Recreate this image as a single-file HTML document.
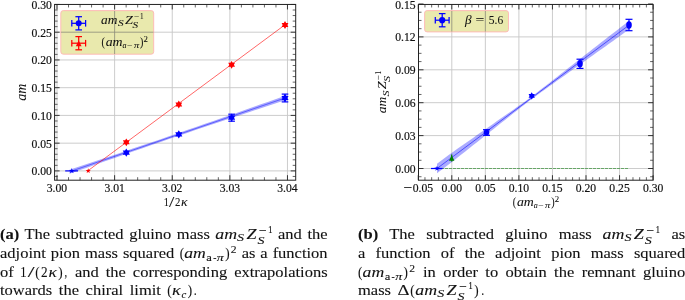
<!DOCTYPE html><html><head><meta charset="utf-8"><title>figure</title><style>
html,body{margin:0;padding:0;background:#fff}
body{width:685px;height:300px;position:relative;overflow:hidden;font-family:"Liberation Serif",serif;color:#111}
.ln{position:absolute;font-size:14.6px;line-height:20px;height:20px;text-align:justify;text-align-last:justify;white-space:normal;transform-origin:0 0;transform:scaleX(1.13);-webkit-text-stroke:0.1px #111}
.ln.last{text-align:left;text-align-last:left;white-space:nowrap;word-spacing:2.2px}
.m{vertical-align:-4.8px;overflow:visible} .m text{stroke-width:0.1px}
</style></head><body>
<svg width="685" height="300" viewBox="0 0 685 300" style="position:absolute;left:0;top:0">
<style>text{font-family:"Liberation Serif",serif;fill:#111;stroke:#111;stroke-width:0.2px} .i{font-style:italic;stroke-width:0.08px} .lt text{stroke-width:0.06px}</style>
<line x1="57.00" y1="4.45" x2="57.00" y2="180.20" stroke="#c6c6c6" stroke-width="0.9" />
<line x1="114.62" y1="4.45" x2="114.62" y2="180.20" stroke="#c6c6c6" stroke-width="0.9" />
<line x1="172.24" y1="4.45" x2="172.24" y2="180.20" stroke="#c6c6c6" stroke-width="0.9" />
<line x1="229.86" y1="4.45" x2="229.86" y2="180.20" stroke="#c6c6c6" stroke-width="0.9" />
<line x1="287.48" y1="4.45" x2="287.48" y2="180.20" stroke="#c6c6c6" stroke-width="0.9" />
<line x1="54.60" y1="170.90" x2="295.70" y2="170.90" stroke="#c6c6c6" stroke-width="0.9" />
<line x1="54.60" y1="143.16" x2="295.70" y2="143.16" stroke="#c6c6c6" stroke-width="0.9" />
<line x1="54.60" y1="115.42" x2="295.70" y2="115.42" stroke="#c6c6c6" stroke-width="0.9" />
<line x1="54.60" y1="87.68" x2="295.70" y2="87.68" stroke="#c6c6c6" stroke-width="0.9" />
<line x1="54.60" y1="59.94" x2="295.70" y2="59.94" stroke="#c6c6c6" stroke-width="0.9" />
<line x1="54.60" y1="32.20" x2="295.70" y2="32.20" stroke="#c6c6c6" stroke-width="0.9" />
<rect x="60.8" y="10.6" width="92.9" height="43.6" rx="2.5" fill="#e9e9ad" stroke="#ffb6b6" stroke-width="0.9"/>
<line x1="114.62" y1="11.00" x2="114.62" y2="54.00" stroke="#8a8a78" stroke-width="0.8" />
<line x1="61.00" y1="32.20" x2="153.50" y2="32.20" stroke="#8a8a78" stroke-width="0.8" />
<polygon points="69.50,169.72 78.54,166.72 87.58,163.72 96.62,160.71 105.67,157.70 114.71,154.68 123.75,151.65 132.79,148.61 141.83,145.56 150.88,142.49 159.92,139.42 168.96,136.33 178.00,133.23 187.04,130.12 196.08,127.00 205.12,123.86 214.17,120.71 223.21,117.56 232.25,114.39 241.29,111.22 250.33,108.04 259.38,104.86 268.42,101.67 277.46,98.47 286.50,95.27 286.50,99.69 277.46,102.69 268.42,105.68 259.38,108.68 250.33,111.68 241.29,114.69 232.25,117.71 223.21,120.73 214.17,123.77 205.12,126.81 196.08,129.86 187.04,132.93 178.00,136.00 168.96,139.09 159.92,142.19 150.88,145.31 141.83,148.44 132.79,151.58 123.75,154.73 114.71,157.88 105.67,161.05 96.62,164.23 87.58,167.41 78.54,170.59 69.50,173.78" fill="#0000ff" fill-opacity="0.34"/>
<line x1="71.70" y1="171.00" x2="286.00" y2="97.66" stroke="#0000ff" stroke-width="0.45" />
<line x1="88.00" y1="170.70" x2="285.50" y2="24.41" stroke="#ff0000" stroke-width="0.6" />
<line x1="65.20" y1="170.90" x2="78.00" y2="170.90" stroke="#0000ff" stroke-width="1.2" />
<polygon points="71.80,167.90 72.51,169.93 74.65,169.97 72.94,171.27 73.56,173.33 71.80,172.10 70.04,173.33 70.66,171.27 68.95,169.97 71.09,169.93" fill="#0000ff"/>
<polygon points="88.20,168.20 88.83,170.03 90.77,170.07 89.23,171.23 89.79,173.08 88.20,171.98 86.61,173.08 87.17,171.23 85.63,170.07 87.57,170.03" fill="#ff0000"/>
<polygon points="126.30,148.50 127.53,150.47 129.85,150.55 128.76,152.60 129.85,154.65 127.53,154.73 126.30,156.70 125.07,154.73 122.75,154.65 123.84,152.60 122.75,150.55 125.07,150.47" fill="#0000ff"/>
<polygon points="178.80,130.30 180.03,132.27 182.35,132.35 181.26,134.40 182.35,136.45 180.03,136.53 178.80,138.50 177.57,136.53 175.25,136.45 176.34,134.40 175.25,132.35 177.57,132.27" fill="#0000ff"/>
<line x1="231.60" y1="114.20" x2="231.60" y2="121.20" stroke="#0000ff" stroke-width="1.2" />
<line x1="228.30" y1="114.20" x2="234.90" y2="114.20" stroke="#0000ff" stroke-width="1.2" />
<line x1="228.30" y1="121.20" x2="234.90" y2="121.20" stroke="#0000ff" stroke-width="1.2" />
<polygon points="231.60,113.60 232.83,115.57 235.15,115.65 234.06,117.70 235.15,119.75 232.83,119.83 231.60,121.80 230.37,119.83 228.05,119.75 229.14,117.70 228.05,115.65 230.37,115.57" fill="#0000ff"/>
<line x1="285.00" y1="94.10" x2="285.00" y2="101.90" stroke="#0000ff" stroke-width="1.2" />
<line x1="281.70" y1="94.10" x2="288.30" y2="94.10" stroke="#0000ff" stroke-width="1.2" />
<line x1="281.70" y1="101.90" x2="288.30" y2="101.90" stroke="#0000ff" stroke-width="1.2" />
<polygon points="285.00,93.90 286.23,95.87 288.55,95.95 287.46,98.00 288.55,100.05 286.23,100.13 285.00,102.10 283.77,100.13 281.45,100.05 282.54,98.00 281.45,95.95 283.77,95.87" fill="#0000ff"/>
<polygon points="126.30,138.40 127.47,140.27 129.68,140.35 128.64,142.30 129.68,144.25 127.47,144.33 126.30,146.20 125.13,144.33 122.92,144.25 123.96,142.30 122.92,140.35 125.13,140.27" fill="#ff0000"/>
<polygon points="178.80,100.60 179.97,102.47 182.18,102.55 181.14,104.50 182.18,106.45 179.97,106.53 178.80,108.40 177.63,106.53 175.42,106.45 176.46,104.50 175.42,102.55 177.63,102.47" fill="#ff0000"/>
<polygon points="231.60,60.90 232.77,62.77 234.98,62.85 233.94,64.80 234.98,66.75 232.77,66.83 231.60,68.70 230.43,66.83 228.22,66.75 229.26,64.80 228.22,62.85 230.43,62.77" fill="#ff0000"/>
<polygon points="285.00,21.10 286.17,22.97 288.38,23.05 287.34,25.00 288.38,26.95 286.17,27.03 285.00,28.90 283.83,27.03 281.62,26.95 282.66,25.00 281.62,23.05 283.83,22.97" fill="#ff0000"/>
<line x1="71.80" y1="23.30" x2="85.60" y2="23.30" stroke="#0000ff" stroke-width="1.25" />
<line x1="71.80" y1="20.00" x2="71.80" y2="26.60" stroke="#0000ff" stroke-width="1.25" />
<line x1="85.60" y1="20.00" x2="85.60" y2="26.60" stroke="#0000ff" stroke-width="1.25" />
<line x1="78.70" y1="16.70" x2="78.70" y2="29.90" stroke="#0000ff" stroke-width="1.25" />
<line x1="75.40" y1="16.70" x2="82.00" y2="16.70" stroke="#0000ff" stroke-width="1.25" />
<line x1="75.40" y1="29.90" x2="82.00" y2="29.90" stroke="#0000ff" stroke-width="1.25" />
<circle cx="78.70" cy="23.30" r="3.0" fill="#0000ff"/>
<line x1="71.80" y1="43.20" x2="85.60" y2="43.20" stroke="#ff0000" stroke-width="1.25" />
<line x1="71.80" y1="39.90" x2="71.80" y2="46.50" stroke="#ff0000" stroke-width="1.25" />
<line x1="85.60" y1="39.90" x2="85.60" y2="46.50" stroke="#ff0000" stroke-width="1.25" />
<line x1="78.70" y1="36.60" x2="78.70" y2="49.80" stroke="#ff0000" stroke-width="1.25" />
<line x1="75.40" y1="36.60" x2="82.00" y2="36.60" stroke="#ff0000" stroke-width="1.25" />
<line x1="75.40" y1="49.80" x2="82.00" y2="49.80" stroke="#ff0000" stroke-width="1.25" />
<polygon points="75.80,46.30 81.60,46.30 78.70,40.50" fill="#ff0000"/>
<line x1="57.00" y1="180.20" x2="57.00" y2="175.20" stroke="#222" stroke-width="0.9" />
<line x1="57.00" y1="4.45" x2="57.00" y2="9.45" stroke="#222" stroke-width="0.9" />
<line x1="114.62" y1="180.20" x2="114.62" y2="175.20" stroke="#222" stroke-width="0.9" />
<line x1="114.62" y1="4.45" x2="114.62" y2="9.45" stroke="#222" stroke-width="0.9" />
<line x1="172.24" y1="180.20" x2="172.24" y2="175.20" stroke="#222" stroke-width="0.9" />
<line x1="172.24" y1="4.45" x2="172.24" y2="9.45" stroke="#222" stroke-width="0.9" />
<line x1="229.86" y1="180.20" x2="229.86" y2="175.20" stroke="#222" stroke-width="0.9" />
<line x1="229.86" y1="4.45" x2="229.86" y2="9.45" stroke="#222" stroke-width="0.9" />
<line x1="287.48" y1="180.20" x2="287.48" y2="175.20" stroke="#222" stroke-width="0.9" />
<line x1="287.48" y1="4.45" x2="287.48" y2="9.45" stroke="#222" stroke-width="0.9" />
<line x1="68.52" y1="180.20" x2="68.52" y2="177.20" stroke="#222" stroke-width="0.7" />
<line x1="68.52" y1="4.45" x2="68.52" y2="7.45" stroke="#222" stroke-width="0.7" />
<line x1="80.05" y1="180.20" x2="80.05" y2="177.20" stroke="#222" stroke-width="0.7" />
<line x1="80.05" y1="4.45" x2="80.05" y2="7.45" stroke="#222" stroke-width="0.7" />
<line x1="91.57" y1="180.20" x2="91.57" y2="177.20" stroke="#222" stroke-width="0.7" />
<line x1="91.57" y1="4.45" x2="91.57" y2="7.45" stroke="#222" stroke-width="0.7" />
<line x1="103.10" y1="180.20" x2="103.10" y2="177.20" stroke="#222" stroke-width="0.7" />
<line x1="103.10" y1="4.45" x2="103.10" y2="7.45" stroke="#222" stroke-width="0.7" />
<line x1="126.14" y1="180.20" x2="126.14" y2="177.20" stroke="#222" stroke-width="0.7" />
<line x1="126.14" y1="4.45" x2="126.14" y2="7.45" stroke="#222" stroke-width="0.7" />
<line x1="137.67" y1="180.20" x2="137.67" y2="177.20" stroke="#222" stroke-width="0.7" />
<line x1="137.67" y1="4.45" x2="137.67" y2="7.45" stroke="#222" stroke-width="0.7" />
<line x1="149.19" y1="180.20" x2="149.19" y2="177.20" stroke="#222" stroke-width="0.7" />
<line x1="149.19" y1="4.45" x2="149.19" y2="7.45" stroke="#222" stroke-width="0.7" />
<line x1="160.72" y1="180.20" x2="160.72" y2="177.20" stroke="#222" stroke-width="0.7" />
<line x1="160.72" y1="4.45" x2="160.72" y2="7.45" stroke="#222" stroke-width="0.7" />
<line x1="183.76" y1="180.20" x2="183.76" y2="177.20" stroke="#222" stroke-width="0.7" />
<line x1="183.76" y1="4.45" x2="183.76" y2="7.45" stroke="#222" stroke-width="0.7" />
<line x1="195.29" y1="180.20" x2="195.29" y2="177.20" stroke="#222" stroke-width="0.7" />
<line x1="195.29" y1="4.45" x2="195.29" y2="7.45" stroke="#222" stroke-width="0.7" />
<line x1="206.81" y1="180.20" x2="206.81" y2="177.20" stroke="#222" stroke-width="0.7" />
<line x1="206.81" y1="4.45" x2="206.81" y2="7.45" stroke="#222" stroke-width="0.7" />
<line x1="218.34" y1="180.20" x2="218.34" y2="177.20" stroke="#222" stroke-width="0.7" />
<line x1="218.34" y1="4.45" x2="218.34" y2="7.45" stroke="#222" stroke-width="0.7" />
<line x1="241.38" y1="180.20" x2="241.38" y2="177.20" stroke="#222" stroke-width="0.7" />
<line x1="241.38" y1="4.45" x2="241.38" y2="7.45" stroke="#222" stroke-width="0.7" />
<line x1="252.91" y1="180.20" x2="252.91" y2="177.20" stroke="#222" stroke-width="0.7" />
<line x1="252.91" y1="4.45" x2="252.91" y2="7.45" stroke="#222" stroke-width="0.7" />
<line x1="264.43" y1="180.20" x2="264.43" y2="177.20" stroke="#222" stroke-width="0.7" />
<line x1="264.43" y1="4.45" x2="264.43" y2="7.45" stroke="#222" stroke-width="0.7" />
<line x1="275.96" y1="180.20" x2="275.96" y2="177.20" stroke="#222" stroke-width="0.7" />
<line x1="275.96" y1="4.45" x2="275.96" y2="7.45" stroke="#222" stroke-width="0.7" />
<line x1="54.60" y1="170.90" x2="59.60" y2="170.90" stroke="#222" stroke-width="0.9" />
<line x1="295.70" y1="170.90" x2="290.70" y2="170.90" stroke="#222" stroke-width="0.9" />
<line x1="54.60" y1="143.16" x2="59.60" y2="143.16" stroke="#222" stroke-width="0.9" />
<line x1="295.70" y1="143.16" x2="290.70" y2="143.16" stroke="#222" stroke-width="0.9" />
<line x1="54.60" y1="115.42" x2="59.60" y2="115.42" stroke="#222" stroke-width="0.9" />
<line x1="295.70" y1="115.42" x2="290.70" y2="115.42" stroke="#222" stroke-width="0.9" />
<line x1="54.60" y1="87.68" x2="59.60" y2="87.68" stroke="#222" stroke-width="0.9" />
<line x1="295.70" y1="87.68" x2="290.70" y2="87.68" stroke="#222" stroke-width="0.9" />
<line x1="54.60" y1="59.94" x2="59.60" y2="59.94" stroke="#222" stroke-width="0.9" />
<line x1="295.70" y1="59.94" x2="290.70" y2="59.94" stroke="#222" stroke-width="0.9" />
<line x1="54.60" y1="32.20" x2="59.60" y2="32.20" stroke="#222" stroke-width="0.9" />
<line x1="295.70" y1="32.20" x2="290.70" y2="32.20" stroke="#222" stroke-width="0.9" />
<line x1="54.60" y1="4.46" x2="59.60" y2="4.46" stroke="#222" stroke-width="0.9" />
<line x1="295.70" y1="4.46" x2="290.70" y2="4.46" stroke="#222" stroke-width="0.9" />
<line x1="54.60" y1="176.45" x2="57.60" y2="176.45" stroke="#222" stroke-width="0.7" />
<line x1="295.70" y1="176.45" x2="292.70" y2="176.45" stroke="#222" stroke-width="0.7" />
<line x1="54.60" y1="165.35" x2="57.60" y2="165.35" stroke="#222" stroke-width="0.7" />
<line x1="295.70" y1="165.35" x2="292.70" y2="165.35" stroke="#222" stroke-width="0.7" />
<line x1="54.60" y1="159.80" x2="57.60" y2="159.80" stroke="#222" stroke-width="0.7" />
<line x1="295.70" y1="159.80" x2="292.70" y2="159.80" stroke="#222" stroke-width="0.7" />
<line x1="54.60" y1="154.26" x2="57.60" y2="154.26" stroke="#222" stroke-width="0.7" />
<line x1="295.70" y1="154.26" x2="292.70" y2="154.26" stroke="#222" stroke-width="0.7" />
<line x1="54.60" y1="148.71" x2="57.60" y2="148.71" stroke="#222" stroke-width="0.7" />
<line x1="295.70" y1="148.71" x2="292.70" y2="148.71" stroke="#222" stroke-width="0.7" />
<line x1="54.60" y1="137.61" x2="57.60" y2="137.61" stroke="#222" stroke-width="0.7" />
<line x1="295.70" y1="137.61" x2="292.70" y2="137.61" stroke="#222" stroke-width="0.7" />
<line x1="54.60" y1="132.06" x2="57.60" y2="132.06" stroke="#222" stroke-width="0.7" />
<line x1="295.70" y1="132.06" x2="292.70" y2="132.06" stroke="#222" stroke-width="0.7" />
<line x1="54.60" y1="126.52" x2="57.60" y2="126.52" stroke="#222" stroke-width="0.7" />
<line x1="295.70" y1="126.52" x2="292.70" y2="126.52" stroke="#222" stroke-width="0.7" />
<line x1="54.60" y1="120.97" x2="57.60" y2="120.97" stroke="#222" stroke-width="0.7" />
<line x1="295.70" y1="120.97" x2="292.70" y2="120.97" stroke="#222" stroke-width="0.7" />
<line x1="54.60" y1="109.87" x2="57.60" y2="109.87" stroke="#222" stroke-width="0.7" />
<line x1="295.70" y1="109.87" x2="292.70" y2="109.87" stroke="#222" stroke-width="0.7" />
<line x1="54.60" y1="104.32" x2="57.60" y2="104.32" stroke="#222" stroke-width="0.7" />
<line x1="295.70" y1="104.32" x2="292.70" y2="104.32" stroke="#222" stroke-width="0.7" />
<line x1="54.60" y1="98.78" x2="57.60" y2="98.78" stroke="#222" stroke-width="0.7" />
<line x1="295.70" y1="98.78" x2="292.70" y2="98.78" stroke="#222" stroke-width="0.7" />
<line x1="54.60" y1="93.23" x2="57.60" y2="93.23" stroke="#222" stroke-width="0.7" />
<line x1="295.70" y1="93.23" x2="292.70" y2="93.23" stroke="#222" stroke-width="0.7" />
<line x1="54.60" y1="82.13" x2="57.60" y2="82.13" stroke="#222" stroke-width="0.7" />
<line x1="295.70" y1="82.13" x2="292.70" y2="82.13" stroke="#222" stroke-width="0.7" />
<line x1="54.60" y1="76.58" x2="57.60" y2="76.58" stroke="#222" stroke-width="0.7" />
<line x1="295.70" y1="76.58" x2="292.70" y2="76.58" stroke="#222" stroke-width="0.7" />
<line x1="54.60" y1="71.04" x2="57.60" y2="71.04" stroke="#222" stroke-width="0.7" />
<line x1="295.70" y1="71.04" x2="292.70" y2="71.04" stroke="#222" stroke-width="0.7" />
<line x1="54.60" y1="65.49" x2="57.60" y2="65.49" stroke="#222" stroke-width="0.7" />
<line x1="295.70" y1="65.49" x2="292.70" y2="65.49" stroke="#222" stroke-width="0.7" />
<line x1="54.60" y1="54.39" x2="57.60" y2="54.39" stroke="#222" stroke-width="0.7" />
<line x1="295.70" y1="54.39" x2="292.70" y2="54.39" stroke="#222" stroke-width="0.7" />
<line x1="54.60" y1="48.84" x2="57.60" y2="48.84" stroke="#222" stroke-width="0.7" />
<line x1="295.70" y1="48.84" x2="292.70" y2="48.84" stroke="#222" stroke-width="0.7" />
<line x1="54.60" y1="43.30" x2="57.60" y2="43.30" stroke="#222" stroke-width="0.7" />
<line x1="295.70" y1="43.30" x2="292.70" y2="43.30" stroke="#222" stroke-width="0.7" />
<line x1="54.60" y1="37.75" x2="57.60" y2="37.75" stroke="#222" stroke-width="0.7" />
<line x1="295.70" y1="37.75" x2="292.70" y2="37.75" stroke="#222" stroke-width="0.7" />
<line x1="54.60" y1="26.65" x2="57.60" y2="26.65" stroke="#222" stroke-width="0.7" />
<line x1="295.70" y1="26.65" x2="292.70" y2="26.65" stroke="#222" stroke-width="0.7" />
<line x1="54.60" y1="21.10" x2="57.60" y2="21.10" stroke="#222" stroke-width="0.7" />
<line x1="295.70" y1="21.10" x2="292.70" y2="21.10" stroke="#222" stroke-width="0.7" />
<line x1="54.60" y1="15.56" x2="57.60" y2="15.56" stroke="#222" stroke-width="0.7" />
<line x1="295.70" y1="15.56" x2="292.70" y2="15.56" stroke="#222" stroke-width="0.7" />
<line x1="54.60" y1="10.01" x2="57.60" y2="10.01" stroke="#222" stroke-width="0.7" />
<line x1="295.70" y1="10.01" x2="292.70" y2="10.01" stroke="#222" stroke-width="0.7" />
<rect x="54.6" y="4.45" width="241.1" height="175.75" fill="none" stroke="#222" stroke-width="1.0"/>
<text x="31.50" y="175.40" font-size="13.4" textLength="20.4" lengthAdjust="spacingAndGlyphs">0.00</text>
<text x="31.50" y="147.66" font-size="13.4" textLength="20.4" lengthAdjust="spacingAndGlyphs">0.05</text>
<text x="31.50" y="119.92" font-size="13.4" textLength="20.4" lengthAdjust="spacingAndGlyphs">0.10</text>
<text x="31.50" y="92.18" font-size="13.4" textLength="20.4" lengthAdjust="spacingAndGlyphs">0.15</text>
<text x="31.50" y="64.44" font-size="13.4" textLength="20.4" lengthAdjust="spacingAndGlyphs">0.20</text>
<text x="31.50" y="36.70" font-size="13.4" textLength="20.4" lengthAdjust="spacingAndGlyphs">0.25</text>
<text x="31.50" y="8.96" font-size="13.4" textLength="20.4" lengthAdjust="spacingAndGlyphs">0.30</text>
<text x="46.80" y="191.80" font-size="13.4" textLength="20.4" lengthAdjust="spacingAndGlyphs">3.00</text>
<text x="104.42" y="191.80" font-size="13.4" textLength="20.4" lengthAdjust="spacingAndGlyphs">3.01</text>
<text x="162.04" y="191.80" font-size="13.4" textLength="20.4" lengthAdjust="spacingAndGlyphs">3.02</text>
<text x="219.66" y="191.80" font-size="13.4" textLength="20.4" lengthAdjust="spacingAndGlyphs">3.03</text>
<text x="277.28" y="191.80" font-size="13.4" textLength="20.4" lengthAdjust="spacingAndGlyphs">3.04</text>
<g class="lt" transform="translate(26.4,100.7) rotate(-90)">
<text x="0.00" y="0.00" font-size="13.8" textLength="17.0" lengthAdjust="spacingAndGlyphs" class="i">am</text>
</g>
<g class="lt">
<text x="163.70" y="206.10" font-size="12.6" textLength="5.2" lengthAdjust="spacingAndGlyphs">1</text>
<text x="169.00" y="206.60" font-size="14.0" textLength="5.3" lengthAdjust="spacingAndGlyphs">/</text>
<text x="174.90" y="206.10" font-size="12.6" textLength="5.4" lengthAdjust="spacingAndGlyphs">2</text>
<text x="180.90" y="206.10" font-size="13.0" textLength="6.6" lengthAdjust="spacingAndGlyphs" class="i">κ</text>
</g>
<g class="lt" transform="translate(101.1,24.1)">
<text x="0.00" y="0.00" font-size="12.6" textLength="16.4" lengthAdjust="spacingAndGlyphs" class="i">am</text>
<text x="17.00" y="2.20" font-size="8.6" textLength="5.6" lengthAdjust="spacingAndGlyphs" class="i">S</text>
<text x="24.00" y="0.00" font-size="12.6" textLength="7.9" lengthAdjust="spacingAndGlyphs" class="i">Z</text>
<text x="31.50" y="3.70" font-size="8.6" textLength="5.6" lengthAdjust="spacingAndGlyphs" class="i">S</text>
<text x="33.20" y="-5.40" font-size="8.6" textLength="5.2" lengthAdjust="spacingAndGlyphs">−</text>
<text x="38.90" y="-5.40" font-size="8.6" textLength="3.6" lengthAdjust="spacingAndGlyphs">1</text>
</g>
<g class="lt" transform="translate(101.5,46.0)">
<text x="0.00" y="0.00" font-size="12.6" textLength="3.4" lengthAdjust="spacingAndGlyphs">(</text>
<text x="4.20" y="0.00" font-size="12.6" textLength="16.9" lengthAdjust="spacingAndGlyphs" class="i">am</text>
<text x="21.00" y="1.60" font-size="8.6" textLength="4.0" lengthAdjust="spacingAndGlyphs" class="i">a</text>
<text x="25.80" y="1.60" font-size="8.6" textLength="5.3" lengthAdjust="spacingAndGlyphs">−</text>
<text x="32.40" y="1.60" font-size="8.6" textLength="5.2" lengthAdjust="spacingAndGlyphs" class="i">π</text>
<text x="38.50" y="0.00" font-size="12.6" textLength="3.4" lengthAdjust="spacingAndGlyphs">)</text>
<text x="42.00" y="-4.50" font-size="8.6" textLength="4.4" lengthAdjust="spacingAndGlyphs">2</text>
</g>
<line x1="451.80" y1="4.45" x2="451.80" y2="180.20" stroke="#c6c6c6" stroke-width="0.9" />
<line x1="485.35" y1="4.45" x2="485.35" y2="180.20" stroke="#c6c6c6" stroke-width="0.9" />
<line x1="518.90" y1="4.45" x2="518.90" y2="180.20" stroke="#c6c6c6" stroke-width="0.9" />
<line x1="552.45" y1="4.45" x2="552.45" y2="180.20" stroke="#c6c6c6" stroke-width="0.9" />
<line x1="586.00" y1="4.45" x2="586.00" y2="180.20" stroke="#c6c6c6" stroke-width="0.9" />
<line x1="619.55" y1="4.45" x2="619.55" y2="180.20" stroke="#c6c6c6" stroke-width="0.9" />
<line x1="418.50" y1="168.50" x2="653.10" y2="168.50" stroke="#c6c6c6" stroke-width="0.9" />
<line x1="418.50" y1="135.60" x2="653.10" y2="135.60" stroke="#c6c6c6" stroke-width="0.9" />
<line x1="418.50" y1="102.70" x2="653.10" y2="102.70" stroke="#c6c6c6" stroke-width="0.9" />
<line x1="418.50" y1="69.80" x2="653.10" y2="69.80" stroke="#c6c6c6" stroke-width="0.9" />
<line x1="418.50" y1="36.90" x2="653.10" y2="36.90" stroke="#c6c6c6" stroke-width="0.9" />
<rect x="424.6" y="10.6" width="83.9" height="21.3" rx="2.5" fill="#e9e9ad" stroke="#ffb6b6" stroke-width="0.9"/>
<line x1="451.80" y1="11.00" x2="451.80" y2="31.60" stroke="#8a8a78" stroke-width="0.8" />
<line x1="485.35" y1="11.00" x2="485.35" y2="31.60" stroke="#8a8a78" stroke-width="0.8" />
<line x1="437.00" y1="168.50" x2="628.50" y2="168.50" stroke="#008000" stroke-width="0.5" stroke-dasharray="3 1"/>
<polygon points="437.00,163.80 441.00,160.81 445.00,157.83 449.00,154.84 453.00,151.92 457.00,149.12 461.00,146.32 465.00,143.52 469.00,140.72 473.00,137.92 477.00,135.12 481.00,132.32 485.00,129.52 489.00,126.72 493.00,123.92 497.00,121.12 501.00,118.32 505.00,115.51 509.00,112.71 513.00,109.90 517.00,107.09 521.00,104.26 525.00,101.41 529.00,98.50 533.00,95.50 537.00,92.45 541.00,89.37 545.00,86.27 549.00,83.16 553.00,80.05 557.00,76.93 561.00,73.82 565.00,70.70 569.00,67.58 573.00,64.46 577.00,61.34 581.00,58.22 585.00,55.10 589.00,51.98 593.00,48.86 597.00,45.74 601.00,42.61 605.00,39.49 609.00,36.37 613.00,33.25 617.00,30.13 621.00,27.00 625.00,23.88 629.00,20.76 629.00,29.52 625.00,32.37 621.00,35.22 617.00,38.07 613.00,40.92 609.00,43.78 605.00,46.63 601.00,49.48 597.00,52.33 593.00,55.18 589.00,58.03 585.00,60.89 581.00,63.74 577.00,66.59 573.00,69.45 569.00,72.30 565.00,75.15 561.00,78.01 557.00,80.87 553.00,83.72 549.00,86.59 545.00,89.45 541.00,92.33 537.00,95.22 533.00,98.14 529.00,101.11 525.00,104.17 521.00,107.30 517.00,110.45 513.00,113.61 509.00,116.77 505.00,119.94 501.00,123.11 497.00,126.28 493.00,129.45 489.00,132.62 485.00,135.80 481.00,138.97 477.00,142.14 473.00,145.32 469.00,148.49 465.00,151.66 461.00,154.84 457.00,158.01 453.00,161.18 449.00,164.24 445.00,167.23 441.00,170.21 437.00,173.20" fill="#0000ff" fill-opacity="0.33"/>
<line x1="437.00" y1="168.50" x2="629.00" y2="25.14" stroke="#0000ff" stroke-width="0.55" />
<line x1="431.00" y1="168.50" x2="442.50" y2="168.50" stroke="#0000ff" stroke-width="1.2" />
<polygon points="437.00,165.70 437.66,167.59 439.66,167.63 438.07,168.85 438.65,170.77 437.00,169.62 435.35,170.77 435.93,168.85 434.34,167.63 436.34,167.59" fill="#0000ff"/>
<polygon points="449.00,160.70 454.40,160.70 451.70,155.30" fill="#008000"/>
<line x1="451.70" y1="154.40" x2="451.70" y2="161.60" stroke="#008000" stroke-width="1.2" />
<line x1="486.50" y1="129.70" x2="486.50" y2="135.30" stroke="#0000ff" stroke-width="1.2" />
<line x1="483.00" y1="129.70" x2="490.00" y2="129.70" stroke="#0000ff" stroke-width="1.2" />
<line x1="483.00" y1="135.30" x2="490.00" y2="135.30" stroke="#0000ff" stroke-width="1.2" />
<ellipse cx="486.50" cy="132.50" rx="2.8" ry="3.1" fill="#0000ff"/>
<polygon points="531.70,92.30 532.78,94.03 534.82,94.10 533.86,95.90 534.82,97.70 532.78,97.77 531.70,99.50 530.62,97.77 528.58,97.70 529.54,95.90 528.58,94.10 530.62,94.03" fill="#0000ff"/>
<line x1="580.00" y1="59.20" x2="580.00" y2="68.40" stroke="#0000ff" stroke-width="1.2" />
<line x1="576.50" y1="59.20" x2="583.50" y2="59.20" stroke="#0000ff" stroke-width="1.2" />
<line x1="576.50" y1="68.40" x2="583.50" y2="68.40" stroke="#0000ff" stroke-width="1.2" />
<ellipse cx="580.00" cy="63.80" rx="2.8" ry="3.7" fill="#0000ff"/>
<line x1="629.00" y1="19.30" x2="629.00" y2="30.70" stroke="#0000ff" stroke-width="1.2" />
<line x1="625.50" y1="19.30" x2="632.50" y2="19.30" stroke="#0000ff" stroke-width="1.2" />
<line x1="625.50" y1="30.70" x2="632.50" y2="30.70" stroke="#0000ff" stroke-width="1.2" />
<ellipse cx="629.00" cy="25.00" rx="2.8" ry="3.7" fill="#0000ff"/>
<line x1="435.30" y1="20.20" x2="449.10" y2="20.20" stroke="#0000ff" stroke-width="1.25" />
<line x1="435.30" y1="16.90" x2="435.30" y2="23.50" stroke="#0000ff" stroke-width="1.25" />
<line x1="449.10" y1="16.90" x2="449.10" y2="23.50" stroke="#0000ff" stroke-width="1.25" />
<line x1="442.20" y1="13.60" x2="442.20" y2="26.80" stroke="#0000ff" stroke-width="1.25" />
<line x1="438.90" y1="13.60" x2="445.50" y2="13.60" stroke="#0000ff" stroke-width="1.25" />
<line x1="438.90" y1="26.80" x2="445.50" y2="26.80" stroke="#0000ff" stroke-width="1.25" />
<circle cx="442.20" cy="20.20" r="3.1" fill="#0000ff"/>
<line x1="418.25" y1="180.20" x2="418.25" y2="175.20" stroke="#222" stroke-width="0.9" />
<line x1="418.25" y1="4.45" x2="418.25" y2="9.45" stroke="#222" stroke-width="0.9" />
<line x1="451.80" y1="180.20" x2="451.80" y2="175.20" stroke="#222" stroke-width="0.9" />
<line x1="451.80" y1="4.45" x2="451.80" y2="9.45" stroke="#222" stroke-width="0.9" />
<line x1="485.35" y1="180.20" x2="485.35" y2="175.20" stroke="#222" stroke-width="0.9" />
<line x1="485.35" y1="4.45" x2="485.35" y2="9.45" stroke="#222" stroke-width="0.9" />
<line x1="518.90" y1="180.20" x2="518.90" y2="175.20" stroke="#222" stroke-width="0.9" />
<line x1="518.90" y1="4.45" x2="518.90" y2="9.45" stroke="#222" stroke-width="0.9" />
<line x1="552.45" y1="180.20" x2="552.45" y2="175.20" stroke="#222" stroke-width="0.9" />
<line x1="552.45" y1="4.45" x2="552.45" y2="9.45" stroke="#222" stroke-width="0.9" />
<line x1="586.00" y1="180.20" x2="586.00" y2="175.20" stroke="#222" stroke-width="0.9" />
<line x1="586.00" y1="4.45" x2="586.00" y2="9.45" stroke="#222" stroke-width="0.9" />
<line x1="619.55" y1="180.20" x2="619.55" y2="175.20" stroke="#222" stroke-width="0.9" />
<line x1="619.55" y1="4.45" x2="619.55" y2="9.45" stroke="#222" stroke-width="0.9" />
<line x1="653.10" y1="180.20" x2="653.10" y2="175.20" stroke="#222" stroke-width="0.9" />
<line x1="653.10" y1="4.45" x2="653.10" y2="9.45" stroke="#222" stroke-width="0.9" />
<line x1="424.96" y1="180.20" x2="424.96" y2="177.20" stroke="#222" stroke-width="0.7" />
<line x1="424.96" y1="4.45" x2="424.96" y2="7.45" stroke="#222" stroke-width="0.7" />
<line x1="431.67" y1="180.20" x2="431.67" y2="177.20" stroke="#222" stroke-width="0.7" />
<line x1="431.67" y1="4.45" x2="431.67" y2="7.45" stroke="#222" stroke-width="0.7" />
<line x1="438.38" y1="180.20" x2="438.38" y2="177.20" stroke="#222" stroke-width="0.7" />
<line x1="438.38" y1="4.45" x2="438.38" y2="7.45" stroke="#222" stroke-width="0.7" />
<line x1="445.09" y1="180.20" x2="445.09" y2="177.20" stroke="#222" stroke-width="0.7" />
<line x1="445.09" y1="4.45" x2="445.09" y2="7.45" stroke="#222" stroke-width="0.7" />
<line x1="458.51" y1="180.20" x2="458.51" y2="177.20" stroke="#222" stroke-width="0.7" />
<line x1="458.51" y1="4.45" x2="458.51" y2="7.45" stroke="#222" stroke-width="0.7" />
<line x1="465.22" y1="180.20" x2="465.22" y2="177.20" stroke="#222" stroke-width="0.7" />
<line x1="465.22" y1="4.45" x2="465.22" y2="7.45" stroke="#222" stroke-width="0.7" />
<line x1="471.93" y1="180.20" x2="471.93" y2="177.20" stroke="#222" stroke-width="0.7" />
<line x1="471.93" y1="4.45" x2="471.93" y2="7.45" stroke="#222" stroke-width="0.7" />
<line x1="478.64" y1="180.20" x2="478.64" y2="177.20" stroke="#222" stroke-width="0.7" />
<line x1="478.64" y1="4.45" x2="478.64" y2="7.45" stroke="#222" stroke-width="0.7" />
<line x1="492.06" y1="180.20" x2="492.06" y2="177.20" stroke="#222" stroke-width="0.7" />
<line x1="492.06" y1="4.45" x2="492.06" y2="7.45" stroke="#222" stroke-width="0.7" />
<line x1="498.77" y1="180.20" x2="498.77" y2="177.20" stroke="#222" stroke-width="0.7" />
<line x1="498.77" y1="4.45" x2="498.77" y2="7.45" stroke="#222" stroke-width="0.7" />
<line x1="505.48" y1="180.20" x2="505.48" y2="177.20" stroke="#222" stroke-width="0.7" />
<line x1="505.48" y1="4.45" x2="505.48" y2="7.45" stroke="#222" stroke-width="0.7" />
<line x1="512.19" y1="180.20" x2="512.19" y2="177.20" stroke="#222" stroke-width="0.7" />
<line x1="512.19" y1="4.45" x2="512.19" y2="7.45" stroke="#222" stroke-width="0.7" />
<line x1="525.61" y1="180.20" x2="525.61" y2="177.20" stroke="#222" stroke-width="0.7" />
<line x1="525.61" y1="4.45" x2="525.61" y2="7.45" stroke="#222" stroke-width="0.7" />
<line x1="532.32" y1="180.20" x2="532.32" y2="177.20" stroke="#222" stroke-width="0.7" />
<line x1="532.32" y1="4.45" x2="532.32" y2="7.45" stroke="#222" stroke-width="0.7" />
<line x1="539.03" y1="180.20" x2="539.03" y2="177.20" stroke="#222" stroke-width="0.7" />
<line x1="539.03" y1="4.45" x2="539.03" y2="7.45" stroke="#222" stroke-width="0.7" />
<line x1="545.74" y1="180.20" x2="545.74" y2="177.20" stroke="#222" stroke-width="0.7" />
<line x1="545.74" y1="4.45" x2="545.74" y2="7.45" stroke="#222" stroke-width="0.7" />
<line x1="559.16" y1="180.20" x2="559.16" y2="177.20" stroke="#222" stroke-width="0.7" />
<line x1="559.16" y1="4.45" x2="559.16" y2="7.45" stroke="#222" stroke-width="0.7" />
<line x1="565.87" y1="180.20" x2="565.87" y2="177.20" stroke="#222" stroke-width="0.7" />
<line x1="565.87" y1="4.45" x2="565.87" y2="7.45" stroke="#222" stroke-width="0.7" />
<line x1="572.58" y1="180.20" x2="572.58" y2="177.20" stroke="#222" stroke-width="0.7" />
<line x1="572.58" y1="4.45" x2="572.58" y2="7.45" stroke="#222" stroke-width="0.7" />
<line x1="579.29" y1="180.20" x2="579.29" y2="177.20" stroke="#222" stroke-width="0.7" />
<line x1="579.29" y1="4.45" x2="579.29" y2="7.45" stroke="#222" stroke-width="0.7" />
<line x1="592.71" y1="180.20" x2="592.71" y2="177.20" stroke="#222" stroke-width="0.7" />
<line x1="592.71" y1="4.45" x2="592.71" y2="7.45" stroke="#222" stroke-width="0.7" />
<line x1="599.42" y1="180.20" x2="599.42" y2="177.20" stroke="#222" stroke-width="0.7" />
<line x1="599.42" y1="4.45" x2="599.42" y2="7.45" stroke="#222" stroke-width="0.7" />
<line x1="606.13" y1="180.20" x2="606.13" y2="177.20" stroke="#222" stroke-width="0.7" />
<line x1="606.13" y1="4.45" x2="606.13" y2="7.45" stroke="#222" stroke-width="0.7" />
<line x1="612.84" y1="180.20" x2="612.84" y2="177.20" stroke="#222" stroke-width="0.7" />
<line x1="612.84" y1="4.45" x2="612.84" y2="7.45" stroke="#222" stroke-width="0.7" />
<line x1="626.26" y1="180.20" x2="626.26" y2="177.20" stroke="#222" stroke-width="0.7" />
<line x1="626.26" y1="4.45" x2="626.26" y2="7.45" stroke="#222" stroke-width="0.7" />
<line x1="632.97" y1="180.20" x2="632.97" y2="177.20" stroke="#222" stroke-width="0.7" />
<line x1="632.97" y1="4.45" x2="632.97" y2="7.45" stroke="#222" stroke-width="0.7" />
<line x1="639.68" y1="180.20" x2="639.68" y2="177.20" stroke="#222" stroke-width="0.7" />
<line x1="639.68" y1="4.45" x2="639.68" y2="7.45" stroke="#222" stroke-width="0.7" />
<line x1="646.39" y1="180.20" x2="646.39" y2="177.20" stroke="#222" stroke-width="0.7" />
<line x1="646.39" y1="4.45" x2="646.39" y2="7.45" stroke="#222" stroke-width="0.7" />
<line x1="418.50" y1="168.50" x2="423.50" y2="168.50" stroke="#222" stroke-width="0.9" />
<line x1="653.10" y1="168.50" x2="648.10" y2="168.50" stroke="#222" stroke-width="0.9" />
<line x1="418.50" y1="135.60" x2="423.50" y2="135.60" stroke="#222" stroke-width="0.9" />
<line x1="653.10" y1="135.60" x2="648.10" y2="135.60" stroke="#222" stroke-width="0.9" />
<line x1="418.50" y1="102.70" x2="423.50" y2="102.70" stroke="#222" stroke-width="0.9" />
<line x1="653.10" y1="102.70" x2="648.10" y2="102.70" stroke="#222" stroke-width="0.9" />
<line x1="418.50" y1="69.80" x2="423.50" y2="69.80" stroke="#222" stroke-width="0.9" />
<line x1="653.10" y1="69.80" x2="648.10" y2="69.80" stroke="#222" stroke-width="0.9" />
<line x1="418.50" y1="36.90" x2="423.50" y2="36.90" stroke="#222" stroke-width="0.9" />
<line x1="653.10" y1="36.90" x2="648.10" y2="36.90" stroke="#222" stroke-width="0.9" />
<line x1="418.50" y1="4.00" x2="423.50" y2="4.00" stroke="#222" stroke-width="0.9" />
<line x1="653.10" y1="4.00" x2="648.10" y2="4.00" stroke="#222" stroke-width="0.9" />
<line x1="418.50" y1="176.72" x2="421.50" y2="176.72" stroke="#222" stroke-width="0.7" />
<line x1="653.10" y1="176.72" x2="650.10" y2="176.72" stroke="#222" stroke-width="0.7" />
<line x1="418.50" y1="160.28" x2="421.50" y2="160.28" stroke="#222" stroke-width="0.7" />
<line x1="653.10" y1="160.28" x2="650.10" y2="160.28" stroke="#222" stroke-width="0.7" />
<line x1="418.50" y1="152.05" x2="421.50" y2="152.05" stroke="#222" stroke-width="0.7" />
<line x1="653.10" y1="152.05" x2="650.10" y2="152.05" stroke="#222" stroke-width="0.7" />
<line x1="418.50" y1="143.82" x2="421.50" y2="143.82" stroke="#222" stroke-width="0.7" />
<line x1="653.10" y1="143.82" x2="650.10" y2="143.82" stroke="#222" stroke-width="0.7" />
<line x1="418.50" y1="127.38" x2="421.50" y2="127.38" stroke="#222" stroke-width="0.7" />
<line x1="653.10" y1="127.38" x2="650.10" y2="127.38" stroke="#222" stroke-width="0.7" />
<line x1="418.50" y1="119.15" x2="421.50" y2="119.15" stroke="#222" stroke-width="0.7" />
<line x1="653.10" y1="119.15" x2="650.10" y2="119.15" stroke="#222" stroke-width="0.7" />
<line x1="418.50" y1="110.93" x2="421.50" y2="110.93" stroke="#222" stroke-width="0.7" />
<line x1="653.10" y1="110.93" x2="650.10" y2="110.93" stroke="#222" stroke-width="0.7" />
<line x1="418.50" y1="94.48" x2="421.50" y2="94.48" stroke="#222" stroke-width="0.7" />
<line x1="653.10" y1="94.48" x2="650.10" y2="94.48" stroke="#222" stroke-width="0.7" />
<line x1="418.50" y1="86.25" x2="421.50" y2="86.25" stroke="#222" stroke-width="0.7" />
<line x1="653.10" y1="86.25" x2="650.10" y2="86.25" stroke="#222" stroke-width="0.7" />
<line x1="418.50" y1="78.03" x2="421.50" y2="78.03" stroke="#222" stroke-width="0.7" />
<line x1="653.10" y1="78.03" x2="650.10" y2="78.03" stroke="#222" stroke-width="0.7" />
<line x1="418.50" y1="61.58" x2="421.50" y2="61.58" stroke="#222" stroke-width="0.7" />
<line x1="653.10" y1="61.58" x2="650.10" y2="61.58" stroke="#222" stroke-width="0.7" />
<line x1="418.50" y1="53.35" x2="421.50" y2="53.35" stroke="#222" stroke-width="0.7" />
<line x1="653.10" y1="53.35" x2="650.10" y2="53.35" stroke="#222" stroke-width="0.7" />
<line x1="418.50" y1="45.12" x2="421.50" y2="45.12" stroke="#222" stroke-width="0.7" />
<line x1="653.10" y1="45.12" x2="650.10" y2="45.12" stroke="#222" stroke-width="0.7" />
<line x1="418.50" y1="28.68" x2="421.50" y2="28.68" stroke="#222" stroke-width="0.7" />
<line x1="653.10" y1="28.68" x2="650.10" y2="28.68" stroke="#222" stroke-width="0.7" />
<line x1="418.50" y1="20.45" x2="421.50" y2="20.45" stroke="#222" stroke-width="0.7" />
<line x1="653.10" y1="20.45" x2="650.10" y2="20.45" stroke="#222" stroke-width="0.7" />
<line x1="418.50" y1="12.22" x2="421.50" y2="12.22" stroke="#222" stroke-width="0.7" />
<line x1="653.10" y1="12.22" x2="650.10" y2="12.22" stroke="#222" stroke-width="0.7" />
<rect x="418.5" y="4.45" width="234.60000000000002" height="175.75" fill="none" stroke="#222" stroke-width="1.0"/>
<text x="395.20" y="173.00" font-size="13.4" textLength="20.4" lengthAdjust="spacingAndGlyphs">0.00</text>
<text x="395.20" y="140.10" font-size="13.4" textLength="20.4" lengthAdjust="spacingAndGlyphs">0.03</text>
<text x="395.20" y="107.20" font-size="13.4" textLength="20.4" lengthAdjust="spacingAndGlyphs">0.06</text>
<text x="395.20" y="74.30" font-size="13.4" textLength="20.4" lengthAdjust="spacingAndGlyphs">0.09</text>
<text x="395.20" y="41.40" font-size="13.4" textLength="20.4" lengthAdjust="spacingAndGlyphs">0.12</text>
<text x="395.20" y="8.50" font-size="13.4" textLength="20.4" lengthAdjust="spacingAndGlyphs">0.15</text>
<text x="403.45" y="191.80" font-size="13.4" textLength="8.6" lengthAdjust="spacingAndGlyphs">−</text>
<text x="412.65" y="191.80" font-size="13.4" textLength="20.4" lengthAdjust="spacingAndGlyphs">0.05</text>
<text x="441.60" y="191.80" font-size="13.4" textLength="20.4" lengthAdjust="spacingAndGlyphs">0.00</text>
<text x="475.15" y="191.80" font-size="13.4" textLength="20.4" lengthAdjust="spacingAndGlyphs">0.05</text>
<text x="508.70" y="191.80" font-size="13.4" textLength="20.4" lengthAdjust="spacingAndGlyphs">0.10</text>
<text x="542.25" y="191.80" font-size="13.4" textLength="20.4" lengthAdjust="spacingAndGlyphs">0.15</text>
<text x="575.80" y="191.80" font-size="13.4" textLength="20.4" lengthAdjust="spacingAndGlyphs">0.20</text>
<text x="609.35" y="191.80" font-size="13.4" textLength="20.4" lengthAdjust="spacingAndGlyphs">0.25</text>
<text x="642.90" y="191.80" font-size="13.4" textLength="20.4" lengthAdjust="spacingAndGlyphs">0.30</text>
<g class="lt" transform="translate(386.4,113.3) rotate(-90)">
<text x="0.00" y="0.00" font-size="12.6" textLength="16.4" lengthAdjust="spacingAndGlyphs" class="i">am</text>
<text x="17.00" y="2.20" font-size="8.6" textLength="5.6" lengthAdjust="spacingAndGlyphs" class="i">S</text>
<text x="24.00" y="0.00" font-size="12.6" textLength="7.9" lengthAdjust="spacingAndGlyphs" class="i">Z</text>
<text x="31.50" y="3.70" font-size="8.6" textLength="5.6" lengthAdjust="spacingAndGlyphs" class="i">S</text>
<text x="33.20" y="-5.40" font-size="8.6" textLength="5.2" lengthAdjust="spacingAndGlyphs">−</text>
<text x="38.90" y="-5.40" font-size="8.6" textLength="3.6" lengthAdjust="spacingAndGlyphs">1</text>
</g>
<g class="lt" transform="translate(512.7,206.1)">
<text x="0.00" y="0.00" font-size="12.6" textLength="3.4" lengthAdjust="spacingAndGlyphs">(</text>
<text x="4.20" y="0.00" font-size="12.6" textLength="16.9" lengthAdjust="spacingAndGlyphs" class="i">am</text>
<text x="21.00" y="1.60" font-size="8.6" textLength="4.0" lengthAdjust="spacingAndGlyphs" class="i">a</text>
<text x="25.80" y="1.60" font-size="8.6" textLength="5.3" lengthAdjust="spacingAndGlyphs">−</text>
<text x="32.40" y="1.60" font-size="8.6" textLength="5.2" lengthAdjust="spacingAndGlyphs" class="i">π</text>
<text x="38.50" y="0.00" font-size="12.6" textLength="3.4" lengthAdjust="spacingAndGlyphs">)</text>
<text x="42.00" y="-4.50" font-size="8.6" textLength="4.4" lengthAdjust="spacingAndGlyphs">2</text>
</g>
<g class="lt">
<text x="465.10" y="24.40" font-size="12.6" textLength="6.6" lengthAdjust="spacingAndGlyphs" class="i">β</text>
<text x="475.60" y="24.40" font-size="12.3" textLength="8.8" lengthAdjust="spacingAndGlyphs">=</text>
<text x="488.80" y="24.40" font-size="12.6" textLength="14.4" lengthAdjust="spacingAndGlyphs">5.6</text>
</g>
</svg>
<div class="ln" style="left:0.4px;top:224.0px;width:289.91px"><b>(a)</b> The subtracted gluino mass <svg class="m" width="50.44" height="20" viewBox="0 -15.2 57.0 20" preserveAspectRatio="none"><text x="-0.6" y="0" font-size="14.8" textLength="21.8" lengthAdjust="spacingAndGlyphs" class="i">am</text><text x="21.2" y="2.2" font-size="10.4" textLength="7.0" lengthAdjust="spacingAndGlyphs" class="i">S</text><text x="30.6" y="0" font-size="14.8" textLength="10.0" lengthAdjust="spacingAndGlyphs" class="i">Z</text><text x="41.6" y="4.8" font-size="10.4" textLength="7.0" lengthAdjust="spacingAndGlyphs" class="i">S</text><text x="43.0" y="-5.6" font-size="11.0" textLength="7.4" lengthAdjust="spacingAndGlyphs" style="stroke-width:0.35px">−</text><text x="52.3" y="-5.8" font-size="10.4" textLength="4.6" lengthAdjust="spacingAndGlyphs">1</text></svg> and the</div>
<div class="ln" style="left:0.4px;top:242.8px;width:289.91px">adjoint pion mass squared <svg class="m" width="50.97" height="20" viewBox="0 -15.2 57.6 20" preserveAspectRatio="none"><text x="0.0" y="0" font-size="14.8" textLength="4.4" lengthAdjust="spacingAndGlyphs">(</text><text x="4.6" y="0" font-size="14.8" textLength="21.6" lengthAdjust="spacingAndGlyphs" class="i">am</text><text x="26.7" y="2.3" font-size="10.4" textLength="5.6" lengthAdjust="spacingAndGlyphs">a</text><text x="33.6" y="2.3" font-size="10.4" textLength="3.2" lengthAdjust="spacingAndGlyphs">-</text><text x="37.2" y="2.3" font-size="10.4" textLength="7.0" lengthAdjust="spacingAndGlyphs" class="i">π</text><text x="45.6" y="0" font-size="14.8" textLength="4.4" lengthAdjust="spacingAndGlyphs">)</text><text x="51.2" y="-5.1" font-size="10.4" textLength="5.8" lengthAdjust="spacingAndGlyphs">2</text></svg> as a function</div>
<div class="ln" style="left:0.4px;top:261.5px;width:289.91px">of <svg class="m" width="41.77" height="20" viewBox="0 -15.2 47.2 20" preserveAspectRatio="none"><text x="0.0" y="0" font-size="14.8" textLength="6.2" lengthAdjust="spacingAndGlyphs">1</text><text x="7.4" y="0" font-size="14.8" textLength="6.8" lengthAdjust="spacingAndGlyphs">/</text><text x="15.0" y="0" font-size="14.8" textLength="4.4" lengthAdjust="spacingAndGlyphs">(</text><text x="20.6" y="0" font-size="14.8" textLength="6.6" lengthAdjust="spacingAndGlyphs">2</text><text x="28.2" y="0" font-size="14.8" textLength="8.4" lengthAdjust="spacingAndGlyphs" class="i">κ</text><text x="37.8" y="0" font-size="14.8" textLength="4.4" lengthAdjust="spacingAndGlyphs">)</text><text x="44.2" y="0" font-size="14.8" textLength="2.6" lengthAdjust="spacingAndGlyphs">,</text></svg> and the corresponding extrapolations</div>
<div class="ln last" style="left:0.4px;top:280.0px;width:289.91px">towards the chiral limit <svg class="m" width="26.19" height="20" viewBox="0 -15.2 29.6 20" preserveAspectRatio="none"><text x="0.0" y="0" font-size="14.8" textLength="4.4" lengthAdjust="spacingAndGlyphs">(</text><text x="4.8" y="0" font-size="14.8" textLength="8.8" lengthAdjust="spacingAndGlyphs" class="i">κ</text><text x="14.2" y="2.3" font-size="10.4" textLength="4.8" lengthAdjust="spacingAndGlyphs" class="i">c</text><text x="20.6" y="0" font-size="14.8" textLength="4.4" lengthAdjust="spacingAndGlyphs">)</text><text x="26.4" y="0" font-size="15.5" textLength="3.0" lengthAdjust="spacingAndGlyphs">.</text></svg></div>
<div class="ln" style="left:357.6px;top:224.0px;width:289.56px"><b>(b)</b> The subtracted gluino mass <svg class="m" width="50.44" height="20" viewBox="0 -15.2 57.0 20" preserveAspectRatio="none"><text x="-0.6" y="0" font-size="14.8" textLength="21.8" lengthAdjust="spacingAndGlyphs" class="i">am</text><text x="21.2" y="2.2" font-size="10.4" textLength="7.0" lengthAdjust="spacingAndGlyphs" class="i">S</text><text x="30.6" y="0" font-size="14.8" textLength="10.0" lengthAdjust="spacingAndGlyphs" class="i">Z</text><text x="41.6" y="4.8" font-size="10.4" textLength="7.0" lengthAdjust="spacingAndGlyphs" class="i">S</text><text x="43.0" y="-5.6" font-size="11.0" textLength="7.4" lengthAdjust="spacingAndGlyphs" style="stroke-width:0.35px">−</text><text x="52.3" y="-5.8" font-size="10.4" textLength="4.6" lengthAdjust="spacingAndGlyphs">1</text></svg> as</div>
<div class="ln" style="left:357.6px;top:242.8px;width:289.56px">a function of the adjoint pion mass squared</div>
<div class="ln" style="left:357.6px;top:261.5px;width:289.56px"><svg class="m" width="50.97" height="20" viewBox="0 -15.2 57.6 20" preserveAspectRatio="none"><text x="0.0" y="0" font-size="14.8" textLength="4.4" lengthAdjust="spacingAndGlyphs">(</text><text x="4.6" y="0" font-size="14.8" textLength="21.6" lengthAdjust="spacingAndGlyphs" class="i">am</text><text x="26.7" y="2.3" font-size="10.4" textLength="5.6" lengthAdjust="spacingAndGlyphs">a</text><text x="33.6" y="2.3" font-size="10.4" textLength="3.2" lengthAdjust="spacingAndGlyphs">-</text><text x="37.2" y="2.3" font-size="10.4" textLength="7.0" lengthAdjust="spacingAndGlyphs" class="i">π</text><text x="45.6" y="0" font-size="14.8" textLength="4.4" lengthAdjust="spacingAndGlyphs">)</text><text x="51.2" y="-5.1" font-size="10.4" textLength="5.8" lengthAdjust="spacingAndGlyphs">2</text></svg> in order to obtain the remnant gluino</div>
<div class="ln last" style="left:357.6px;top:280.0px;width:289.56px">mass <svg class="m" width="76.99" height="20" viewBox="0 -15.2 87.0 20" preserveAspectRatio="none"><text x="0.0" y="0" font-size="14.8" textLength="12.0" lengthAdjust="spacingAndGlyphs">Δ</text><text x="12.8" y="0" font-size="14.8" textLength="4.4" lengthAdjust="spacingAndGlyphs">(</text><text x="17.8" y="0" font-size="14.8" textLength="21.8" lengthAdjust="spacingAndGlyphs" class="i">am</text><text x="39.6" y="2.2" font-size="10.4" textLength="7.0" lengthAdjust="spacingAndGlyphs" class="i">S</text><text x="49.0" y="0" font-size="14.8" textLength="10.0" lengthAdjust="spacingAndGlyphs" class="i">Z</text><text x="60.0" y="4.8" font-size="10.4" textLength="7.0" lengthAdjust="spacingAndGlyphs" class="i">S</text><text x="61.4" y="-5.6" font-size="11.0" textLength="7.4" lengthAdjust="spacingAndGlyphs" style="stroke-width:0.35px">−</text><text x="70.7" y="-5.8" font-size="10.4" textLength="4.6" lengthAdjust="spacingAndGlyphs">1</text><text x="76.6" y="0" font-size="14.8" textLength="4.4" lengthAdjust="spacingAndGlyphs">)</text><text x="83.6" y="0" font-size="15.5" textLength="3.0" lengthAdjust="spacingAndGlyphs">.</text></svg></div>
</body></html>
